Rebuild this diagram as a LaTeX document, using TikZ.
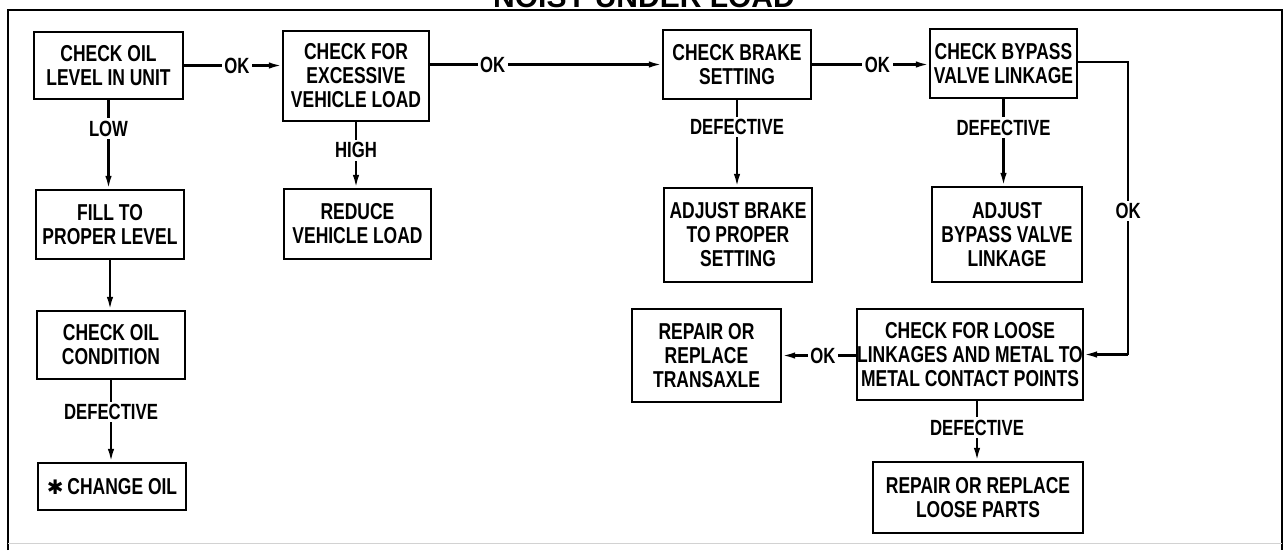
\documentclass[tikz,border=0pt]{standalone}
\usepackage{fontspec}
\setmainfont{Liberation Sans}[FakeStretch=0.76]
\newfontfamily\titlefont{Liberation Sans}
\newfontfamily\symfont{DejaVu Sans}
\usetikzlibrary{arrows.meta,calc}
\begin{document}
\begin{tikzpicture}[x=1pt,y=-1pt,
  box/.style={draw,line width=2.4pt,align=center,inner sep=0pt,font=\bfseries\fontsize{23}{24}\selectfont},
  lbl/.style={fill=white,inner sep=2.5pt,font=\bfseries\fontsize{22}{22}\selectfont},
  conn/.style={line width=2.2pt,-{Latex[length=13pt,width=6.5pt]}},
  frame/.style={line width=2.4pt},
]
\useasboundingbox (0,0) rectangle (1284,550);
\clip (0,0) rectangle (1284,550);

% frame and title
\draw[frame] (8,550) -- (8,10) -- (1282,10) -- (1282,550);
\draw[gray!35,line width=0.8pt] (8,543) -- (1282,543);
\node[anchor=base,inner sep=0pt,font=\titlefont\bfseries\fontsize{30}{30}\selectfont] (T) at (644,7) {NOISY UNDER LOAD};

% boxes
\node[box,minimum width=149pt,minimum height=67pt] (A) at (108.5,65.5) {CHECK OIL\\LEVEL IN UNIT};
\node[box,minimum width=146pt,minimum height=90pt] (B) at (356,76) {CHECK FOR\\EXCESSIVE\\VEHICLE LOAD};
\node[box,minimum width=148pt,minimum height=69pt] (E) at (737,64.5) {CHECK BRAKE\\SETTING};
\node[box,minimum width=147pt,minimum height=69pt] (F) at (1003.5,63.5) {CHECK BYPASS\\VALVE LINKAGE};
\node[box,minimum width=148pt,minimum height=69pt] (C) at (110,224.5) {FILL TO\\PROPER LEVEL};
\node[box,minimum width=147pt,minimum height=70pt] (D) at (357.5,224) {REDUCE\\VEHICLE LOAD};
\node[box,minimum width=148pt,minimum height=94pt] (G) at (738,235) {ADJUST BRAKE\\TO PROPER\\SETTING};
\node[box,minimum width=150pt,minimum height=95pt] (H) at (1007,234.5) {ADJUST\\BYPASS VALVE\\LINKAGE};
\node[box,minimum width=148pt,minimum height=68pt] (I) at (111,345) {CHECK OIL\\CONDITION};
\node[box,minimum width=148pt,minimum height=47pt] (J) at (112,486.5) {{\symfont\fontsize{20}{20}\selectfont ✱}\,CHANGE OIL};
\node[box,minimum width=149pt,minimum height=93pt] (K) at (706.5,355.5) {REPAIR OR\\REPLACE\\TRANSAXLE};
\node[box,minimum width=224pt,minimum height=91pt] (L) at (970,354.5) {CHECK FOR LOOSE\\LINKAGES AND METAL TO\\METAL CONTACT POINTS};
\node[box,minimum width=210pt,minimum height=71pt] (M) at (978,497.5) {REPAIR OR REPLACE\\LOOSE PARTS};

% horizontal connectors
\draw[conn] (A.east) -- node[lbl,pos=0.54] (l1) {OK} (A.east -| B.west);
\draw[conn] (E.west -| B.east) -- node[lbl,pos=0.27] (l2) {OK} (E.west);
\draw[conn] (E.east) -- node[lbl,pos=0.56] (l3) {OK} (E.east -| F.west);
\draw[conn] (L.west |- K.east) -- node[lbl,pos=0.45] (l4) {OK} (K.east);

% F -> L loop
\coordinate (c1) at ($(F.east)+(50,-1.5)$);
\coordinate (c2) at (c1 |- L.east);
\draw[line width=2.2pt] (F.east |- c1) -- (c1) -- node[lbl,pos=0.51] (l5) {OK} (c2);
\draw[conn] (c2) -- (L.east);

% vertical connectors
\draw[conn] (A.south) -- node[lbl,pos=0.32] (l6) {LOW} (A.south |- C.north);
\draw[conn] (C.south) -- (C.south |- I.north);
\draw[conn] (I.south) -- node[lbl,pos=0.39] (l7) {DEFECTIVE} (I.south |- J.north);
\draw[conn] (B.south) -- node[lbl,pos=0.43] (l8) {HIGH} (B.south |- D.north);
\draw[conn] (E.south) -- node[lbl,pos=0.31] (l9) {DEFECTIVE} (E.south |- G.north);
\draw[conn] (F.south) -- node[lbl,pos=0.33] (l10) {DEFECTIVE} (F.south |- H.north);
\coordinate (d1) at ($(L.south)+(7,0)$);
\coordinate (d2) at (d1 |- M.north);
\draw[conn] (d1) -- node[lbl,pos=0.44] (l11) {DEFECTIVE} (d2);
\end{tikzpicture}
\end{document}
